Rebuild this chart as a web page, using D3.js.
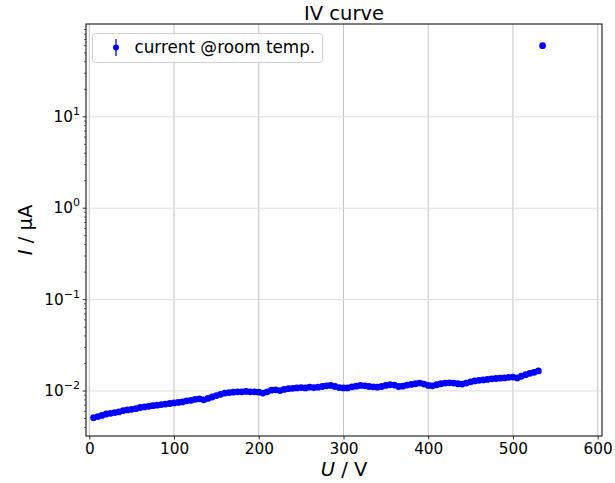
<!DOCTYPE html>
<html>
<head>
<meta charset="utf-8">
<script src="https://cdn.jsdelivr.net/npm/d3@7"></script>
<style>
  html, body { margin: 0; padding: 0; background: #fff; }
  svg { display: block; font-family: "DejaVu Sans", sans-serif; }
</style>
</head>
<body>
<svg id="chart" width="615" height="483"></svg>
<script>
// Bias voltage (V) and leakage current (µA) at room temperature
const voltage = [
  5, 10, 15, 20, 25, 30, 35, 40, 45, 50,
  55, 60, 65, 70, 75, 80, 85, 90, 95, 100,
  105, 110, 115, 120, 125, 130, 135, 140, 145, 150,
  155, 160, 165, 170, 175, 180, 185, 190, 195, 200,
  205, 210, 215, 220, 225, 230, 235, 240, 245, 250,
  255, 260, 265, 270, 275, 280, 285, 290, 295, 300,
  305, 310, 315, 320, 325, 330, 335, 340, 345, 350,
  355, 360, 365, 370, 375, 380, 385, 390, 395, 400,
  405, 410, 415, 420, 425, 430, 435, 440, 445, 450,
  455, 460, 465, 470, 475, 480, 485, 490, 495, 500,
  505, 510, 515, 520, 525, 530, 535
];
const current = [
  0.0051, 0.00525, 0.0054, 0.0056, 0.0057, 0.0058, 0.0059, 0.0061, 0.0062, 0.0063,
  0.0064, 0.0066, 0.0067, 0.0068, 0.0069, 0.0070, 0.0071, 0.0072, 0.0073, 0.0074,
  0.0075, 0.0076, 0.0078, 0.0079, 0.0081, 0.0082, 0.0080, 0.0083, 0.0086, 0.0089,
  0.0092, 0.0095, 0.0096, 0.0097, 0.0098, 0.0098, 0.0099, 0.0098, 0.0098, 0.0097,
  0.0095, 0.0098, 0.0102, 0.0103, 0.0101, 0.0104, 0.0106, 0.0107, 0.0108, 0.0109,
  0.0108, 0.0110, 0.0109, 0.0110, 0.0112, 0.0114, 0.0115, 0.0112, 0.0109, 0.0108,
  0.0108, 0.0111, 0.0113, 0.0115, 0.0114, 0.0112, 0.0111, 0.0110, 0.0112, 0.0115,
  0.0117, 0.0116, 0.0112, 0.0113, 0.0116, 0.0118, 0.0120, 0.0122, 0.0119, 0.0115,
  0.0114, 0.0117, 0.0120, 0.0122, 0.0123, 0.0122, 0.0120, 0.0119, 0.0122, 0.0126,
  0.0129, 0.0131, 0.0132, 0.0134, 0.0136, 0.0137, 0.0138, 0.0139, 0.0141, 0.0142,
  0.0139, 0.0145, 0.0151, 0.0156, 0.0160, 0.0166, 60
];
const xTicks = [0, 100, 200, 300, 400, 500, 600];
const yTicks = [0.01, 0.1, 1, 10];
const yTickExps = ["\u22122", "\u22121", "0", "1"];
const titleText = "IV curve";
const legendText = "current @room temp.";

const svg = d3.select("#chart");
const plot = { left: 86, right: 602, top: 24, bottom: 436 };

const x = d3.scaleLinear().domain([-3.9, 605.1]).range([plot.left, plot.right]);
const y = d3.scaleLog().domain([0.003218, 103.6]).range([plot.bottom, plot.top]);

// grid
const grid = svg.append("g");
grid.selectAll("line.gx").data(xTicks).join("line")
  .attr("x1", d => x(d)).attr("x2", d => x(d))
  .attr("y1", plot.top).attr("y2", plot.bottom)
  .attr("stroke", "#c4c4c4").attr("stroke-width", 1);
grid.selectAll("line.gy").data(yTicks).join("line")
  .attr("x1", plot.left).attr("x2", plot.right)
  .attr("y1", d => y(d)).attr("y2", d => y(d))
  .attr("stroke", "#dedede").attr("stroke-width", 1);

// data points
const pts = voltage.map((v, i) => ({ v, c: current[i] }));
svg.append("g").selectAll("circle").data(pts).join("circle")
  .attr("cx", d => x(d.v)).attr("cy", d => y(d.c))
  .attr("r", 3.4).attr("fill", "#0000ff");

// axes
const xAxis = d3.axisBottom(x).tickValues(xTicks).tickSize(3.5).tickPadding(4).tickFormat(d3.format("d"));
const gx = svg.append("g").attr("transform", `translate(0,${plot.bottom})`).call(xAxis);
gx.select(".domain").remove();
gx.selectAll("line").attr("stroke", "#000").attr("stroke-width", 0.8);
gx.selectAll("text").attr("font-size", 15.3).attr("fill", "#000")
  .attr("font-family", "DejaVu Sans, sans-serif");

// y minor ticks
const minor = [];
for (let e = -3; e <= 2; e++) for (let m = 2; m <= 9; m++) {
  const val = m * Math.pow(10, e);
  if (val >= y.domain()[0] && val <= y.domain()[1]) minor.push(val);
}
svg.append("g").selectAll("line").data(minor).join("line")
  .attr("x1", plot.left - 2).attr("x2", plot.left)
  .attr("y1", d => y(d)).attr("y2", d => y(d))
  .attr("stroke", "#000").attr("stroke-width", 0.6);

// y major ticks with power-of-ten labels
const gy = svg.append("g");
gy.selectAll("line").data(yTicks).join("line")
  .attr("x1", plot.left - 3.5).attr("x2", plot.left)
  .attr("y1", d => y(d)).attr("y2", d => y(d))
  .attr("stroke", "#000").attr("stroke-width", 0.8);
const yl = gy.selectAll("text").data(yTicks).join("text")
  .attr("x", 80).attr("y", d => y(d) + 5)
  .attr("text-anchor", "end").attr("font-size", 15.3).attr("fill", "#000");
yl.append("tspan").text("10");
yl.append("tspan").attr("dy", -7).attr("font-size", 11).text((d, i) => yTickExps[i]);

// frame
svg.append("rect")
  .attr("x", plot.left).attr("y", plot.top)
  .attr("width", plot.right - plot.left).attr("height", plot.bottom - plot.top)
  .attr("fill", "none").attr("stroke", "#000").attr("stroke-width", 1);

// title and axis labels
svg.append("text").attr("x", (plot.left + plot.right) / 2).attr("y", 20)
  .attr("text-anchor", "middle").attr("font-size", 19.5).attr("fill", "#000").text(titleText);

const xl = svg.append("text").attr("x", (plot.left + plot.right) / 2).attr("y", 476)
  .attr("text-anchor", "middle").attr("font-size", 19.5).attr("fill", "#000");
xl.append("tspan").attr("font-style", "italic").text("U");
xl.append("tspan").text(" / V");

const ylab = svg.append("text")
  .attr("transform", `translate(32,${(plot.top + plot.bottom) / 2}) rotate(-90)`)
  .attr("text-anchor", "middle").attr("font-size", 19.5).attr("fill", "#000");
ylab.append("tspan").attr("font-style", "italic").text("I");
ylab.append("tspan").text(" / \u00b5A");

// legend
const lg = svg.append("g");
lg.append("rect").attr("x", 92.5).attr("y", 33.5).attr("width", 230).attr("height", 29)
  .attr("rx", 3).attr("fill", "#fff").attr("fill-opacity", 0.8)
  .attr("stroke", "#d0d0d0").attr("stroke-width", 1);
lg.append("line").attr("x1", 116).attr("x2", 116).attr("y1", 39).attr("y2", 56)
  .attr("stroke", "#0000ff").attr("stroke-width", 1.3);
lg.append("circle").attr("cx", 116).attr("cy", 47.5).attr("r", 3).attr("fill", "#0000ff");
lg.append("text").attr("x", 134.5).attr("y", 53).attr("font-size", 16.8).attr("fill", "#000")
  .text(legendText);
</script>
</body>
</html>
